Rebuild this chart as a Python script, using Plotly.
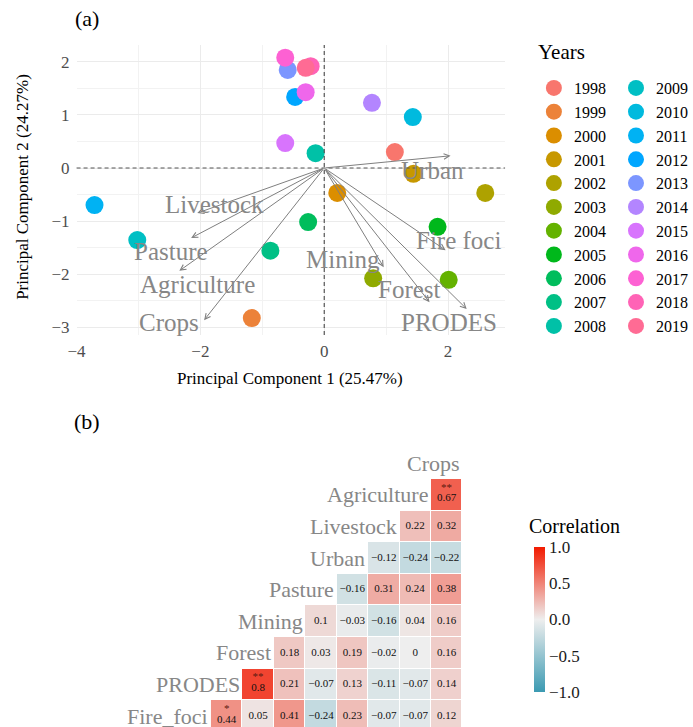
import math
import plotly.graph_objects as go

# ---------------- data: PCA scores ----------------
years = list(range(1998, 2020))
pc1 = [1.14, -1.17, 0.21, 1.44, 2.60, 0.79, 2.01, 1.83, -0.26, -0.87, -0.14,
       -3.02, 1.43, -3.71, -0.47, -0.59, 0.77, -0.63, -0.30, -0.63, -0.22, -0.30]
pc2 = [0.30, -2.83, -0.47, -0.11, -0.47, -2.08, -2.11, -1.11, -1.02, -1.56, 0.28,
       -1.36, 0.96, -0.70, 1.34, 1.85, 1.23, 0.47, 1.43, 2.08, 1.92, 1.89]

# ---------------- data: PCA loadings (arrow heads) and label positions ----------------
load_names = ["Urban", "Livestock", "Pasture", "Agriculture", "Crops",
              "Mining", "Forest", "PRODES", "Fire foci"]
load_x = [2.04, -2.05, -2.15, -2.34, -1.94, 0.96, 1.70, 2.30, 1.96]
load_y = [0.23, -0.85, -1.32, -1.94, -2.87, -1.87, -2.53, -2.66, -1.55]
lab_x = [1.75, -1.77, -2.47, -2.05, -2.50, 0.30, 1.38, 2.01, 2.17]
lab_y = [-0.04, -0.68, -1.58, -2.19, -2.91, -1.72, -2.30, -2.91, -1.36]

# ---------------- data: correlation matrix (lower triangle) ----------------
corr_vars = ["Fire_foci", "PRODES", "Forest", "Mining", "Pasture",
             "Urban", "Livestock", "Agriculture", "Crops"]
corr_rows = [
    [0.44, 0.05, 0.41, -0.24, 0.23, -0.07, -0.07, 0.12],
    [0.8, 0.21, -0.07, 0.13, -0.11, -0.07, 0.14],
    [0.18, 0.03, 0.19, -0.02, 0, 0.16],
    [0.1, -0.03, -0.16, 0.04, 0.16],
    [-0.16, 0.31, 0.24, 0.38],
    [-0.12, -0.24, -0.22],
    [0.22, 0.32],
    [0.67],
]
sig_rows = [
    ["*", "", "", "", "", "", "", ""],
    ["**", "", "", "", "", "", ""],
    ["", "", "", "", "", ""],
    ["", "", "", "", ""],
    ["", "", "", ""],
    ["", "", ""],
    ["", ""],
    ["**"],
]
cbar_ticks = [-1, -0.5, 0, 0.5, 1]

FONT = "Liberation Serif"


def hcl_hex(h, c=100.0, l=65.0):
    hr = math.radians(h)
    U, V = c * math.cos(hr), c * math.sin(hr)
    Xn, Yn, Zn = 95.047, 100.0, 108.883
    Y = Yn * ((l + 16) / 116) ** 3 if l > 8 else Yn * l / 903.3
    t = Xn + 15 * Yn + 3 * Zn
    un, vn = 4 * Xn / t, 9 * Yn / t
    u, v = U / (13 * l) + un, V / (13 * l) + vn
    X = 9.0 * Y * u / (4 * v)
    Z = -X / 3 - 5 * Y + 3 * Y / v
    X, Y, Z = X / 100, Y / 100, Z / 100
    r = 3.240479 * X - 1.537150 * Y - 0.498535 * Z
    g = -0.969256 * X + 1.875992 * Y + 0.041556 * Z
    b = 0.055648 * X - 0.204043 * Y + 1.057311 * Z

    def gam(x):
        x = 12.92 * x if x <= 0.0031308 else 1.055 * x ** (1 / 2.4) - 0.055
        return int(round(min(max(x, 0), 1) * 255))

    return "#%02X%02X%02X" % (gam(r), gam(g), gam(b))


n = len(years)
colors = [hcl_hex(15 + i * 360 / n) for i in range(n)]

fig = go.Figure()

# PCA points, legend split in two columns
for i, yr in enumerate(years):
    fig.add_trace(go.Scatter(
        x=[pc1[i]], y=[pc2[i]], mode="markers", name=str(yr),
        marker=dict(size=18, color=colors[i]),
        legend="legend" if i < 11 else "legend2",
        xaxis="x", yaxis="y", hoverinfo="skip"))

# loading arrows
GREY = "#7F7F7F"
for nm, hx, hy in zip(load_names, load_x, load_y):
    fig.add_annotation(x=hx, y=hy, ax=0, ay=0, xref="x", yref="y", axref="x", ayref="y",
                       text="", showarrow=True, arrowhead=5, arrowsize=1.1,
                       arrowwidth=1, arrowcolor=GREY, standoff=0)
for nm, tx, ty in zip(load_names, lab_x, lab_y):
    fig.add_annotation(x=tx, y=ty, xref="x", yref="y", text=nm, showarrow=False,
                       xanchor="center",
                       font=dict(family=FONT, size=25, color="#878787"))

# dashed zero lines
fig.add_shape(type="line", xref="x domain", yref="y", x0=0, x1=1, y0=0, y1=0,
              line=dict(color="#555555", width=1.2, dash="4px,3px"))
fig.add_shape(type="line", xref="x", yref="y domain", x0=0, x1=0, y0=0, y1=1,
              line=dict(color="#555555", width=1.2, dash="4px,3px"))

# ---------------- heatmap ----------------
nr = len(corr_rows)
z = [[None] * nr for _ in range(nr)]
cx, cy, ct, sx, sy, st = [], [], [], [], [], []


def fmt(v):
    s = f"{v:.2f}".rstrip("0").rstrip(".")
    if s in ("-0", ""):
        s = "0"
    return s.replace("-", "\u2212")


for r, (vals, sigs) in enumerate(zip(corr_rows, sig_rows)):
    for k, (v, sg) in enumerate(zip(vals, sigs)):
        c = r + k
        z[r][c] = v
        cx.append(c + 1)
        cy.append(r + 1 - (0.12 if sg else 0))
        ct.append(fmt(v))
        if sg:
            sx.append(c + 1)
            sy.append(r + 1 + 0.22)
            st.append(sg)

fig.add_trace(go.Heatmap(
    z=z, x=list(range(1, nr + 1)), y=list(range(1, nr + 1)),
    zmin=-1, zmax=1, xgap=1, ygap=1, hoverinfo="skip",
    colorscale=[[0, "#3B9AB2"], [0.5, "#EEEEEE"], [1, "#F21A00"]],
    xaxis="x2", yaxis="y2", showlegend=False,
    colorbar=dict(
        x=537 / 693, xanchor="left", y=1 - 547 / 727, yanchor="top",
        len=(692 - 547) / 727, lenmode="fraction", thickness=11, outlinewidth=0,
        ypad=0, xpad=0,
        tickvals=cbar_ticks, ticktext=[f"{t:.1f}".replace("-", "\u2212") for t in cbar_ticks],
        ticks="", tickfont=dict(family=FONT, size=17, color="#1A1A1A"),
    )))

fig.add_trace(go.Scatter(x=cx, y=cy, text=ct, mode="text", xaxis="x2", yaxis="y2",
                         textfont=dict(family=FONT, size=11, color="#111111"),
                         showlegend=False, hoverinfo="skip"))
fig.add_trace(go.Scatter(x=sx, y=sy, text=st, mode="text", xaxis="x2", yaxis="y2",
                         textfont=dict(family=FONT, size=11, color="#5A1A10"),
                         showlegend=False, hoverinfo="skip"))

for r, nm in enumerate(corr_vars):
    fig.add_annotation(x=r + 1 - 0.52, y=r + 1, xref="x2", yref="y2", text=nm,
                       showarrow=False, xanchor="right",
                       font=dict(family=FONT, size=22, color="#878787"))

# panel labels, axis titles, legend titles
fig.add_annotation(x=88 / 693, y=1 - 18 / 727, xref="paper", yref="paper", text="(a)",
                   showarrow=False, xanchor="center", yanchor="middle",
                   font=dict(family=FONT, size=22, color="#000"))
fig.add_annotation(x=88 / 693, y=1 - 421 / 727, xref="paper", yref="paper", text="(b)",
                   showarrow=False, xanchor="center", yanchor="middle",
                   font=dict(family=FONT, size=22, color="#000"))
fig.add_annotation(x=292 / 693, y=1 - 378 / 727, xref="paper", yref="paper",
                   text="Principal Component 1 (25.47%)", showarrow=False,
                   xanchor="center", yanchor="middle",
                   font=dict(family=FONT, size=17, color="#000"))
fig.add_annotation(x=22 / 693, y=1 - 187 / 727, xref="paper", yref="paper",
                   text="Principal Component 2 (24.27%)", showarrow=False, textangle=-90,
                   xanchor="center", yanchor="middle",
                   font=dict(family=FONT, size=17, color="#000"))
fig.add_annotation(x=539 / 693, y=1 - 52 / 727, xref="paper", yref="paper",
                   text="Years", showarrow=False, xanchor="left", yanchor="middle",
                   font=dict(family=FONT, size=21, color="#000"))
fig.add_annotation(x=530 / 693, y=1 - 526 / 727, xref="paper", yref="paper",
                   text="Correlation", showarrow=False, xanchor="left", yanchor="middle",
                   font=dict(family=FONT, size=20, color="#000"))

fig.update_layout(
    width=693, height=727, margin=dict(l=0, r=0, t=0, b=0),
    paper_bgcolor="white", plot_bgcolor="white",
    font=dict(family=FONT),
    xaxis=dict(domain=[77 / 693, 508 / 693], range=[-4.0, 2.92], dtick=2, tick0=0,
               showgrid=True, gridcolor="#EBEBEB", gridwidth=1, zeroline=False,
               minor=dict(dtick=1, tick0=0, showgrid=True, gridcolor="#F2F2F2", gridwidth=1),
               ticks="", showline=False, automargin=False,
               tickfont=dict(family=FONT, size=17, color="#4D4D4D"), ticklabelstandoff=4),
    yaxis=dict(domain=[(727 - 335) / 727, (727 - 45) / 727], range=[-3.15, 2.32], dtick=1,
               showgrid=True, gridcolor="#EBEBEB", gridwidth=1, zeroline=False,
               minor=dict(dtick=0.5, tick0=0, showgrid=True, gridcolor="#F2F2F2", gridwidth=1),
               ticks="", showline=False, automargin=False,
               tickfont=dict(family=FONT, size=17, color="#4D4D4D"), ticklabelstandoff=6),
    xaxis2=dict(domain=[60 / 693, 496 / 693], range=[1 + (60 - 228) / 31.6, 1 + (496 - 228) / 31.6],
                visible=False, anchor="y2"),
    yaxis2=dict(domain=[0, (727 - 440) / 727], range=[1 + (716 - 727) / 31.6, 1 + (716 - 440) / 31.6],
                visible=False, anchor="x2"),
    legend=dict(x=537 / 693, y=1 - 71 / 727, xanchor="left", yanchor="top",
                font=dict(family=FONT, size=16, color="#000"), bgcolor="rgba(0,0,0,0)",
                tracegroupgap=0, itemsizing="trace"),
    legend2=dict(x=620 / 693, y=1 - 71 / 727, xanchor="left", yanchor="top",
                 font=dict(family=FONT, size=16, color="#000"), bgcolor="rgba(0,0,0,0)",
                 tracegroupgap=0, itemsizing="trace"),
)

fig.write_html("out.html")
